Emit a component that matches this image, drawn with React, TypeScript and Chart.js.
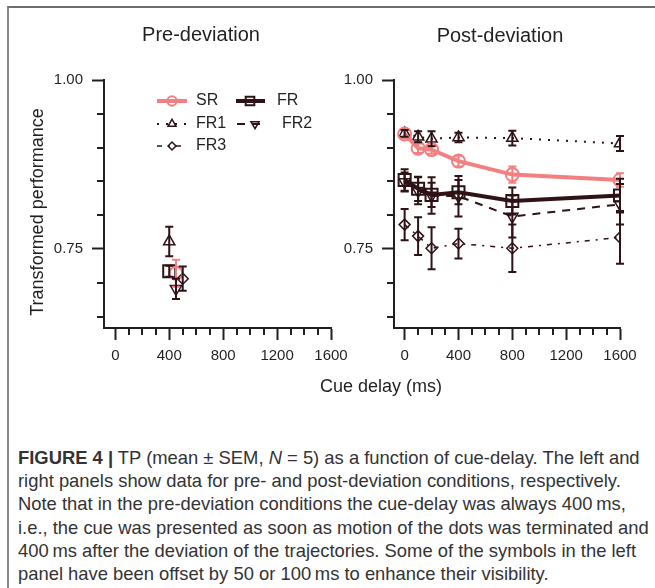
import React, { useEffect, useRef } from 'react';
import { Chart, registerables } from 'chart.js';
import { drawPoint } from 'chart.js/helpers';

Chart.register(...registerables);

// ---------------- data ----------------
const seriesNames = ['SR', 'FR', 'FR1', 'FR2', 'FR3'];

// Pre-deviation (cue delay always 400 ms; some symbols offset by 50/100 ms)
const preDelays = [450, 400, 400, 450, 500];
const preMeans = [0.714, 0.717, 0.761, 0.691, 0.706];
const preSEM = [0.02, 0.008, 0.022, 0.015, 0.018];

// Post-deviation
const postDelays = [0, 100, 200, 400, 800, 1600];
const postSR = [0.92, 0.899, 0.897, 0.88, 0.86, 0.852];
const postFR = [0.852, 0.839, 0.83, 0.834, 0.821, 0.829];
const postFR1 = [0.921, 0.916, 0.913, 0.915, 0.914, 0.906];
const postFR2 = [0.849, 0.836, 0.829, 0.828, 0.798, 0.816];
const postFR3 = [0.786, 0.769, 0.751, 0.758, 0.751, 0.767];
const semSR = [0.007, 0.007, 0.006, 0.008, 0.012, 0.01];
const semFR = [0.016, 0.018, 0.018, 0.018, 0.02, 0.025];
const semFR1 = [0.005, 0.008, 0.011, 0.007, 0.011, 0.011];
const semFR2 = [0.014, 0.02, 0.027, 0.03, 0.031, 0.03];
const semFR3 = [0.023, 0.028, 0.031, 0.022, 0.035, 0.039];

const xTickLabels = ['0', '400', '800', '1200', '1600'];
const yTickLabels = ['0.75', '1.00'];

// ---------------- styles ----------------
const PINK = '#f28080';
const DARK = '#2e1216';
const AXIS = '#231f20';
const TEXT = '#231f20';
const FONT = "'Liberation Sans', Arial, sans-serif";

type SeriesStyle = {
  color: string; width: number; dash: number[]; pointStyle: string;
  radius: number; rotation: number; pointBorder: number;
};
const seriesStyle: Record<string, SeriesStyle> = {
  SR: { color: PINK, width: 4, dash: [], pointStyle: 'circle', radius: 6.5, rotation: 0, pointBorder: 2 },
  FR: { color: DARK, width: 4, dash: [], pointStyle: 'rect', radius: 8.5, rotation: 0, pointBorder: 2 },
  FR1: { color: DARK, width: 2, dash: [2, 7], pointStyle: 'triangle', radius: 6.5, rotation: 0, pointBorder: 1.5 },
  FR2: { color: DARK, width: 2, dash: [8, 7], pointStyle: 'triangle', radius: 6.5, rotation: 180, pointBorder: 1.5 },
  FR3: { color: DARK, width: 1.5, dash: [5, 6, 2, 6], pointStyle: 'rectRot', radius: 5.5, rotation: 0, pointBorder: 1.5 },
};

const isMajorX = (v: number) => xTickLabels.includes(String(v));
const isMajorY = (v: number) => yTickLabels.includes(Number(v).toFixed(2));

function makeDataset(name: string, xs: number[], ys: number[], errs: number[], showLine: boolean) {
  const s = seriesStyle[name];
  return {
    label: name,
    data: xs.map((x, i) => ({ x, y: ys[i] })),
    errors: errs,
    borderColor: s.color,
    backgroundColor: 'rgba(0,0,0,0)',
    borderWidth: s.width,
    borderDash: s.dash,
    showLine,
    tension: 0,
    fill: false,
    pointStyle: s.pointStyle,
    pointRadius: s.radius,
    pointHoverRadius: s.radius,
    pointRotation: s.rotation,
    pointBorderWidth: s.pointBorder,
    pointBorderColor: s.color,
    pointBackgroundColor: 'rgba(0,0,0,0)',
  };
}

// ---------------- plugins ----------------
const errorBars = {
  id: 'errorBars',
  afterDatasetsDraw(chart: any) {
    const { ctx } = chart;
    const xs = chart.scales.x;
    const ys = chart.scales.y;
    chart.data.datasets.forEach((ds: any) => {
      const errs: number[] = ds.errors;
      if (!errs) return;
      ctx.save();
      ctx.strokeStyle = ds.borderColor;
      ctx.lineWidth = 2;
      ctx.setLineDash([]);
      ds.data.forEach((p: any, j: number) => {
        const x = xs.getPixelForValue(p.x);
        const y1 = ys.getPixelForValue(p.y + errs[j]);
        const y2 = ys.getPixelForValue(p.y - errs[j]);
        ctx.beginPath();
        ctx.moveTo(x, y1); ctx.lineTo(x, y2);
        ctx.moveTo(x - 4, y1); ctx.lineTo(x + 4, y1);
        ctx.moveTo(x - 4, y2); ctx.lineTo(x + 4, y2);
        ctx.stroke();
      });
      ctx.restore();
    });
  },
};

const minorTicks = {
  id: 'minorTicks',
  afterDraw(chart: any) {
    const { ctx, chartArea, scales } = chart;
    ctx.save();
    ctx.strokeStyle = AXIS;
    ctx.lineWidth = 2;
    ctx.beginPath();
    scales.x.ticks.forEach((t: any) => {
      if (isMajorX(t.value)) return;
      const px = Math.round(scales.x.getPixelForValue(t.value));
      ctx.moveTo(px, chartArea.bottom);
      ctx.lineTo(px, chartArea.bottom + 7);
    });
    scales.y.ticks.forEach((t: any) => {
      if (isMajorY(t.value)) return;
      const py = Math.round(scales.y.getPixelForValue(t.value));
      ctx.moveTo(chartArea.left, py);
      ctx.lineTo(chartArea.left - 7, py);
    });
    ctx.stroke();
    ctx.restore();
  },
};

const legendLayout = [
  { name: 'SR', x0: 157, x1: 187, mx: 172, tx: 196, y: 101 },
  { name: 'FR', x0: 236, x1: 265, mx: 250, tx: 277, y: 101 },
  { name: 'FR1', x0: 157, x1: 187, mx: 172, tx: 196, y: 124 },
  { name: 'FR2', x0: 237, x1: 266, mx: 255, tx: 282, y: 124 },
  { name: 'FR3', x0: 157, x1: 187, mx: 172, tx: 196, y: 146 },
];

const seriesLegend = {
  id: 'seriesLegend',
  afterDraw(chart: any) {
    const { ctx } = chart;
    legendLayout.forEach((item) => {
      const s = seriesStyle[item.name];
      ctx.save();
      ctx.strokeStyle = s.color;
      ctx.lineWidth = s.width;
      ctx.setLineDash(s.dash);
      ctx.beginPath();
      ctx.moveTo(item.x0, item.y);
      ctx.lineTo(item.x1, item.y);
      ctx.stroke();
      ctx.setLineDash([]);
      ctx.lineWidth = s.pointBorder;
      ctx.fillStyle = 'rgba(0,0,0,0)';
      drawPoint(ctx, { pointStyle: s.pointStyle as any, radius: s.radius * 0.72, rotation: s.rotation, borderWidth: s.pointBorder }, item.mx, item.y);
      ctx.fillStyle = TEXT;
      ctx.font = `16px ${FONT}`;
      ctx.textBaseline = 'middle';
      ctx.textAlign = 'left';
      ctx.fillText(item.name, item.tx, item.y);
      ctx.restore();
    });
  },
};

function buildConfig(datasets: any[], xMin: number, yAxisWidth: number, padRight: number, withLegend: boolean): any {
  return {
    type: 'line',
    data: { datasets },
    options: {
      animation: false,
      responsive: false,
      maintainAspectRatio: false,
      layout: { padding: { top: 80, right: padRight, left: 0, bottom: 0 } },
      plugins: { legend: { display: false }, tooltip: { enabled: false }, title: { display: false } },
      scales: {
        x: {
          type: 'linear',
          min: xMin,
          max: 1600,
          afterFit: (s: any) => { s.height = 72; },
          border: { display: true, color: AXIS, width: 2 },
          grid: {
            display: true, drawOnChartArea: false, drawTicks: true, tickLength: 12, tickWidth: 2,
            tickColor: (c: any) => (c.tick && isMajorX(c.tick.value) ? AXIS : 'rgba(0,0,0,0)'),
          },
          ticks: {
            stepSize: 100, autoSkip: false, maxRotation: 0, minRotation: 0, includeBounds: false,
            padding: 7, color: TEXT, font: { family: FONT, size: 15 },
            callback: (v: any) => (isMajorX(v) ? String(v) : ''),
          },
        },
        y: {
          type: 'linear',
          min: 0.633,
          max: 1.0,
          afterFit: (s: any) => { s.width = yAxisWidth; },
          border: { display: true, color: AXIS, width: 2 },
          grid: {
            display: true, drawOnChartArea: false, drawTicks: true, tickLength: 12, tickWidth: 2,
            tickColor: (c: any) => (c.tick && isMajorY(c.tick.value) ? AXIS : 'rgba(0,0,0,0)'),
          },
          ticks: {
            stepSize: 0.05, autoSkip: false, includeBounds: false,
            padding: 9, color: TEXT, font: { family: FONT, size: 15 },
            callback: (v: any) => (isMajorY(v) ? Number(v).toFixed(2) : ''),
          },
        },
      },
    },
    plugins: withLegend ? [errorBars, minorTicks, seriesLegend] : [errorBars, minorTicks],
  };
}

export default function App() {
  const leftRef = useRef<HTMLCanvasElement>(null);
  const rightRef = useRef<HTMLCanvasElement>(null);

  useEffect(() => {
    document.body.style.margin = '0';
    const preSets = seriesNames.map((n, i) => makeDataset(n, [preDelays[i]], [preMeans[i]], [preSEM[i]], false));
    const postMeans: Record<string, number[]> = { SR: postSR, FR: postFR, FR1: postFR1, FR2: postFR2, FR3: postFR3 };
    const postSEM: Record<string, number[]> = { SR: semSR, FR: semFR, FR1: semFR1, FR2: semFR2, FR3: semFR3 };
    const postSets = seriesNames.map((n) => makeDataset(n, postDelays, postMeans[n], postSEM[n], true));

    const left = new Chart(leftRef.current as HTMLCanvasElement, buildConfig(preSets, -84, 104, 370 - 331, true));
    const right = new Chart(rightRef.current as HTMLCanvasElement, buildConfig(postSets, -79, 54, 315 - 280, false));
    return () => { left.destroy(); right.destroy(); };
  }, []);

  const txt: React.CSSProperties = { position: 'absolute', fontFamily: FONT, color: TEXT, whiteSpace: 'nowrap', textAlign: 'center' };

  return (
    <div style={{ position: 'absolute', left: 0, top: 0, width: 655, height: 588, background: '#fff', overflow: 'hidden' }}>
      <div style={{ position: 'absolute', left: 7, top: 6, width: 660, height: 600, borderTop: '2px solid #6e6e6e', borderLeft: '2px solid #8a8a8a' }} />
      <canvas ref={leftRef} width={370} height={400} style={{ position: 'absolute', left: 0, top: 0, width: 370, height: 400 }} />
      <canvas ref={rightRef} width={315} height={400} style={{ position: 'absolute', left: 340, top: 0, width: 315, height: 400 }} />
      <div style={{ ...txt, left: 201 - 100, top: 22, width: 200, fontSize: 20, lineHeight: '24px' }}>Pre-deviation</div>
      <div style={{ ...txt, left: 500 - 100, top: 23, width: 200, fontSize: 20, lineHeight: '24px' }}>Post-deviation</div>
      <div style={{ ...txt, left: 381 - 100, top: 375, width: 200, fontSize: 18, lineHeight: '22px' }}>Cue delay (ms)</div>
      <div style={{ ...txt, left: 37 - 150, top: 212 - 11, width: 300, fontSize: 18, lineHeight: '22px', transform: 'rotate(-90deg)', transformOrigin: '50% 50%' }}>Transformed performance</div>
      <div style={{ position: 'absolute', left: 18, top: 446, fontFamily: FONT, fontSize: 18.4, lineHeight: '23.2px', color: '#333', whiteSpace: 'nowrap' }}>
        <div><b>FIGURE 4 |</b> TP (mean ± SEM, <i>N</i> = 5) as a function of cue-delay. The left and</div>
        <div>right panels show data for pre- and post-deviation conditions, respectively.</div>
        <div>Note that in the pre-deviation conditions the cue-delay was always 400{'\u2009'}ms,</div>
        <div>i.e., the cue was presented as soon as motion of the dots was terminated and</div>
        <div>400{'\u2009'}ms after the deviation of the trajectories. Some of the symbols in the left</div>
        <div>panel have been offset by 50 or 100{'\u2009'}ms to enhance their visibility.</div>
      </div>
    </div>
  );
}
